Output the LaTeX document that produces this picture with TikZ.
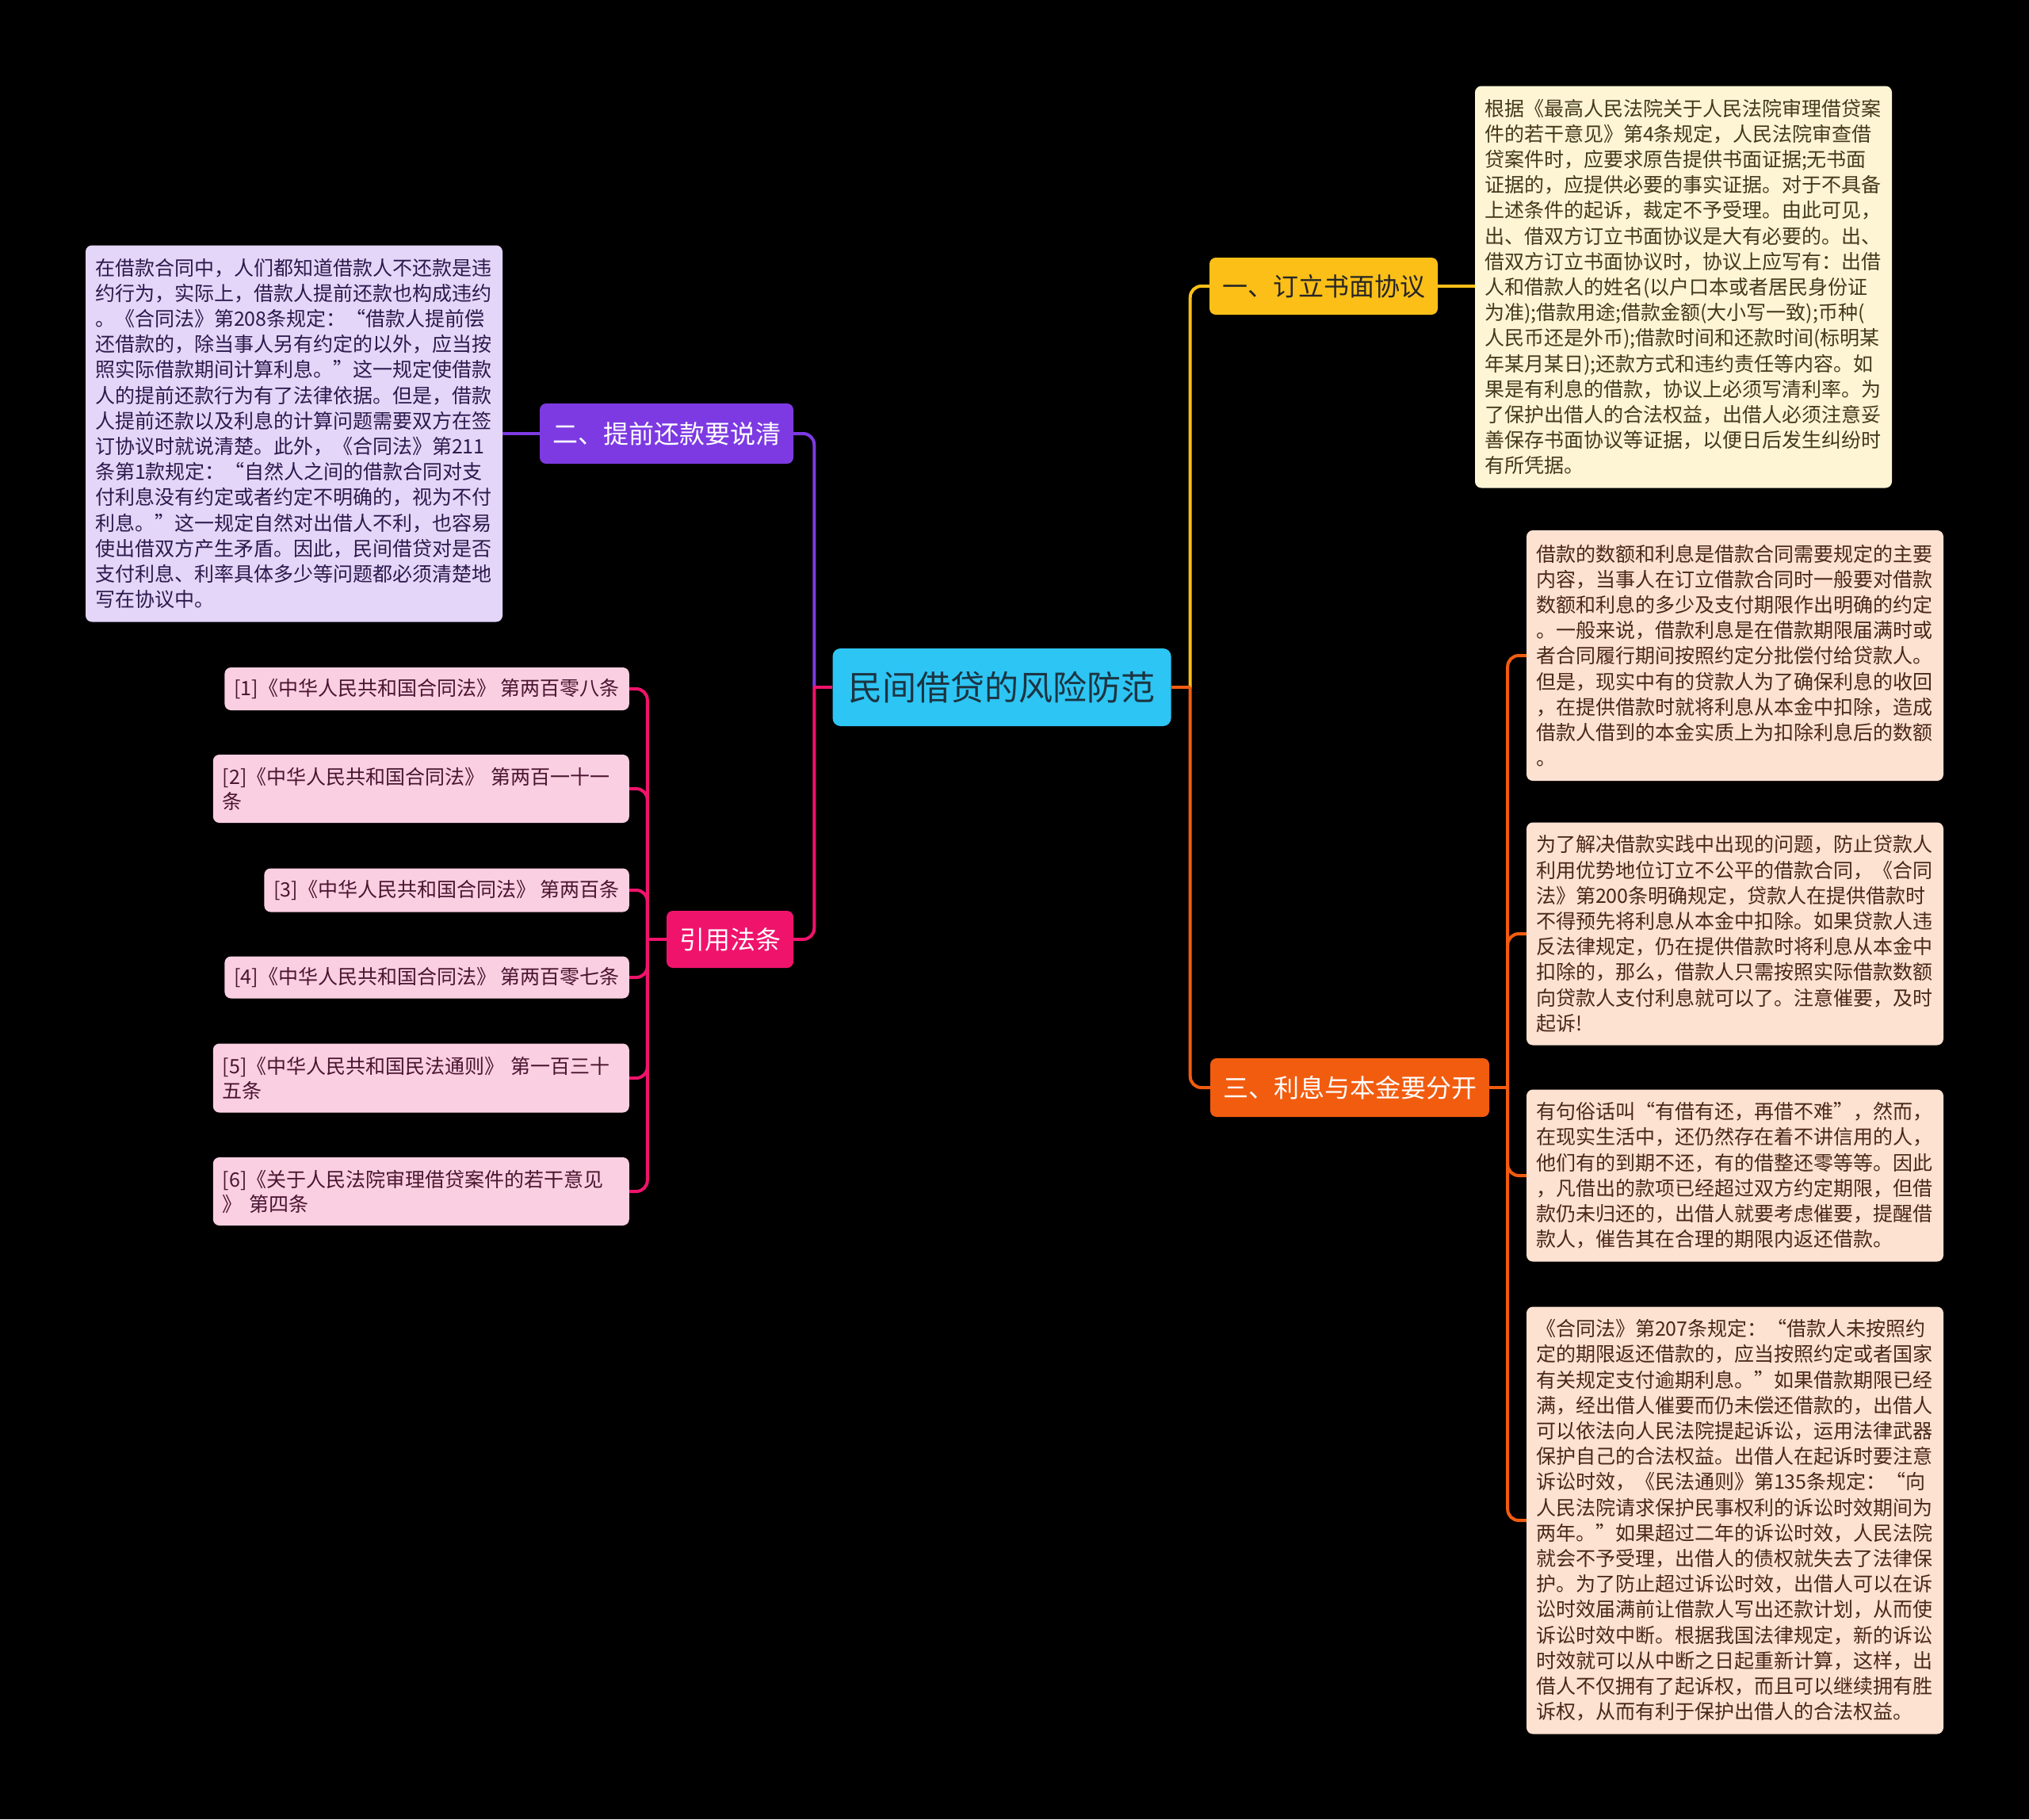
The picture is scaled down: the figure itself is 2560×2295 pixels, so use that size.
\documentclass[tikz,border=0pt]{standalone}
\usepackage{fontspec}
\setmainfont{Noto Sans CJK SC}
\usetikzlibrary{calc}

\definecolor{rootfill}{HTML}{2DC5F4}
\definecolor{roottext}{HTML}{1C3441}
\definecolor{yel}{HTML}{FBBF17}
\definecolor{pur}{HTML}{7D3AE2}
\definecolor{pnk}{HTML}{F0136C}
\definecolor{org}{HTML}{F25C0F}
\definecolor{yelleaf}{HTML}{FEF5D5}
\definecolor{yelink}{HTML}{45391C}
\definecolor{purleaf}{HTML}{E4D6F8}
\definecolor{purink}{HTML}{2B1A4D}
\definecolor{orgleaf}{HTML}{FDE1D1}
\definecolor{orgink}{HTML}{4A2818}
\definecolor{pnkleaf}{HTML}{FBCFE2}
\definecolor{pnkink}{HTML}{4A1530}

\begin{document}
\begin{tikzpicture}[x=1pt, y=-1pt,
  topic/.style={rounded corners=8, inner xsep=16, inner ysep=0, minimum height=72, font=\fontsize{32}{38}\selectfont},
  leaf/.style={rounded corners=8, inner xsep=12, inner ysep=0, text width=502, align=left, font=\fontsize{25}{32.2}\selectfont},
  cite/.style={rounded corners=8, fill=pnkleaf, text=pnkink, inner xsep=12, inner ysep=0, font=\fontsize{25}{31}\selectfont, anchor=east},
  lnk/.style={line width=4, rounded corners=14}]
\fill[black] (0,0) rectangle (2560,2295);

\node[rounded corners=10, fill=rootfill, text=roottext, inner xsep=20, minimum height=98, font=\fontsize{43}{50}\selectfont] (root) at (1264,867) {民间借贷的风险防范};

\node[topic, fill=yel, text=black!85] (shu) at (1670,361) {一、订立书面协议};
\node[topic, fill=pur, text=white, minimum height=76] (tiqian) at (841,547) {二、提前还款要说清};
\node[topic, fill=pnk, text=white] (yinyong) at (921,1185) {引用法条};
\node[topic, fill=org, text=white, minimum height=74] (lixi) at (1703,1372) {三、利息与本金要分开};

\node[leaf, fill=yelleaf, text=yelink, minimum height=507] (shuA) at (2124,362) {根据《最高人民法院关于人民法院审理借贷案\\件的若干意见》第4条规定，人民法院审查借\\贷案件时，应要求原告提供书面证据;无书面\\证据的，应提供必要的事实证据。对于不具备\\上述条件的起诉，裁定不予受理。由此可见，\\出、借双方订立书面协议是大有必要的。出、\\借双方订立书面协议时，协议上应写有：出借\\人和借款人的姓名(以户口本或者居民身份证\\为准);借款用途;借款金额(大小写一致);币种(\\人民币还是外币);借款时间和还款时间(标明某\\年某月某日);还款方式和违约责任等内容。如\\果是有利息的借款，协议上必须写清利率。为\\了保护出借人的合法权益，出借人必须注意妥\\善保存书面协议等证据，以便日后发生纠纷时\\有所凭据。};

\node[leaf, fill=purleaf, text=purink, minimum height=475] (tiqianA) at (371,547) {在借款合同中，人们都知道借款人不还款是违\\约行为，实际上，借款人提前还款也构成违约\\。《合同法》第208条规定：“借款人提前偿\\还借款的，除当事人另有约定的以外，应当按\\照实际借款期间计算利息。”这一规定使借款\\人的提前还款行为有了法律依据。但是，借款\\人提前还款以及利息的计算问题需要双方在签\\订协议时就说清楚。此外，《合同法》第211\\条第1款规定：“自然人之间的借款合同对支\\付利息没有约定或者约定不明确的，视为不付\\利息。”这一规定自然对出借人不利，也容易\\使出借双方产生矛盾。因此，民间借贷对是否\\支付利息、利率具体多少等问题都必须清楚地\\写在协议中。};

\node[leaf, fill=orgleaf, text=orgink, minimum height=316] (lixiA) at (2189,827) {借款的数额和利息是借款合同需要规定的主要\\内容，当事人在订立借款合同时一般要对借款\\数额和利息的多少及支付期限作出明确的约定\\。一般来说，借款利息是在借款期限届满时或\\者合同履行期间按照约定分批偿付给贷款人。\\但是，现实中有的贷款人为了确保利息的收回\\，在提供借款时就将利息从本金中扣除，造成\\借款人借到的本金实质上为扣除利息后的数额\\。};
\node[leaf, fill=orgleaf, text=orgink, minimum height=281] (lixiB) at (2189,1178) {为了解决借款实践中出现的问题，防止贷款人\\利用优势地位订立不公平的借款合同，《合同\\法》第200条明确规定，贷款人在提供借款时\\不得预先将利息从本金中扣除。如果贷款人违\\反法律规定，仍在提供借款时将利息从本金中\\扣除的，那么，借款人只需按照实际借款数额\\向贷款人支付利息就可以了。注意催要，及时\\起诉!};
\node[leaf, fill=orgleaf, text=orgink, minimum height=217] (lixiC) at (2189,1483) {有句俗话叫“有借有还，再借不难”，然而，\\在现实生活中，还仍然存在着不讲信用的人，\\他们有的到期不还，有的借整还零等等。因此\\，凡借出的款项已经超过双方约定期限，但借\\款仍未归还的，出借人就要考虑催要，提醒借\\款人，催告其在合理的期限内返还借款。};
\node[leaf, fill=orgleaf, text=orgink, minimum height=539] (lixiD) at (2189,1918) {《合同法》第207条规定：“借款人未按照约\\定的期限返还借款的，应当按照约定或者国家\\有关规定支付逾期利息。”如果借款期限已经\\满，经出借人催要而仍未偿还借款的，出借人\\可以依法向人民法院提起诉讼，运用法律武器\\保护自己的合法权益。出借人在起诉时要注意\\诉讼时效，《民法通则》第135条规定：“向\\人民法院请求保护民事权利的诉讼时效期间为\\两年。”如果超过二年的诉讼时效，人民法院\\就会不予受理，出借人的债权就失去了法律保\\护。为了防止超过诉讼时效，出借人可以在诉\\讼时效届满前让借款人写出还款计划，从而使\\诉讼时效中断。根据我国法律规定，新的诉讼\\时效就可以从中断之日起重新计算，这样，出\\借人不仅拥有了起诉权，而且可以继续拥有胜\\诉权，从而有利于保护出借人的合法权益。};

\node[cite, minimum height=54] (citeA) at (794,869) {[1]《中华人民共和国合同法》 第两百零八条};
\node[cite, minimum height=86, text width=501, align=left] (citeB) at (794,995) {[2]《中华人民共和国合同法》 第两百一十一\\条};
\node[cite, minimum height=55] (citeC) at (794,1123) {[3]《中华人民共和国合同法》 第两百条};
\node[cite, minimum height=53] (citeD) at (794,1233) {[4]《中华人民共和国合同法》 第两百零七条};
\node[cite, minimum height=87, text width=501, align=left] (citeE) at (794,1360) {[5]《中华人民共和国民法通则》 第一百三十\\五条};
\node[cite, minimum height=86, text width=501, align=left] (citeF) at (794,1503) {[6]《关于人民法院审理借贷案件的若干意见\\》 第四条};

\coordinate (rootL) at ($(root.west)+(-23,0)$);
\coordinate (rootR) at ($(root.east)+(24,0)$);
\coordinate (lixiR) at ($(lixi.east)+(23,0)$);
\coordinate (yinyongL) at ($(yinyong.west)+(-24,0)$);

\draw[lnk, pur] (rootL) |- (tiqian.east);
\draw[lnk, pnk] (rootL) |- (yinyong.east);
\draw[lnk, pnk] (root.west) -- (rootL);
\draw[lnk, yel] (rootR) |- (shu.west);
\draw[lnk, org] (rootR) |- (lixi.west);
\draw[lnk, org] (root.east) -- (rootR);

\draw[lnk, yel] (shu.east) -- (shuA.west |- shu.east);
\draw[lnk, pur] (tiqian.west) -- (tiqianA.east |- tiqian.west);

\draw[lnk, org] (lixi.east) -- (lixiR);
\draw[lnk, org] (lixiR) |- (lixiA.west);
\draw[lnk, org] (lixiR) |- (lixiB.west);
\draw[lnk, org] (lixiR) |- (lixiC.west);
\draw[lnk, org] (lixiR) |- (lixiD.west);

\draw[lnk, pnk] (yinyong.west) -- (yinyongL);
\draw[lnk, pnk] (yinyongL) |- (citeA.east);
\draw[lnk, pnk] (yinyongL) |- (citeB.east);
\draw[lnk, pnk] (yinyongL) |- (citeC.east);
\draw[lnk, pnk] (yinyongL) |- (citeD.east);
\draw[lnk, pnk] (yinyongL) |- (citeE.east);
\draw[lnk, pnk] (yinyongL) |- (citeF.east);
\end{tikzpicture}
\end{document}
